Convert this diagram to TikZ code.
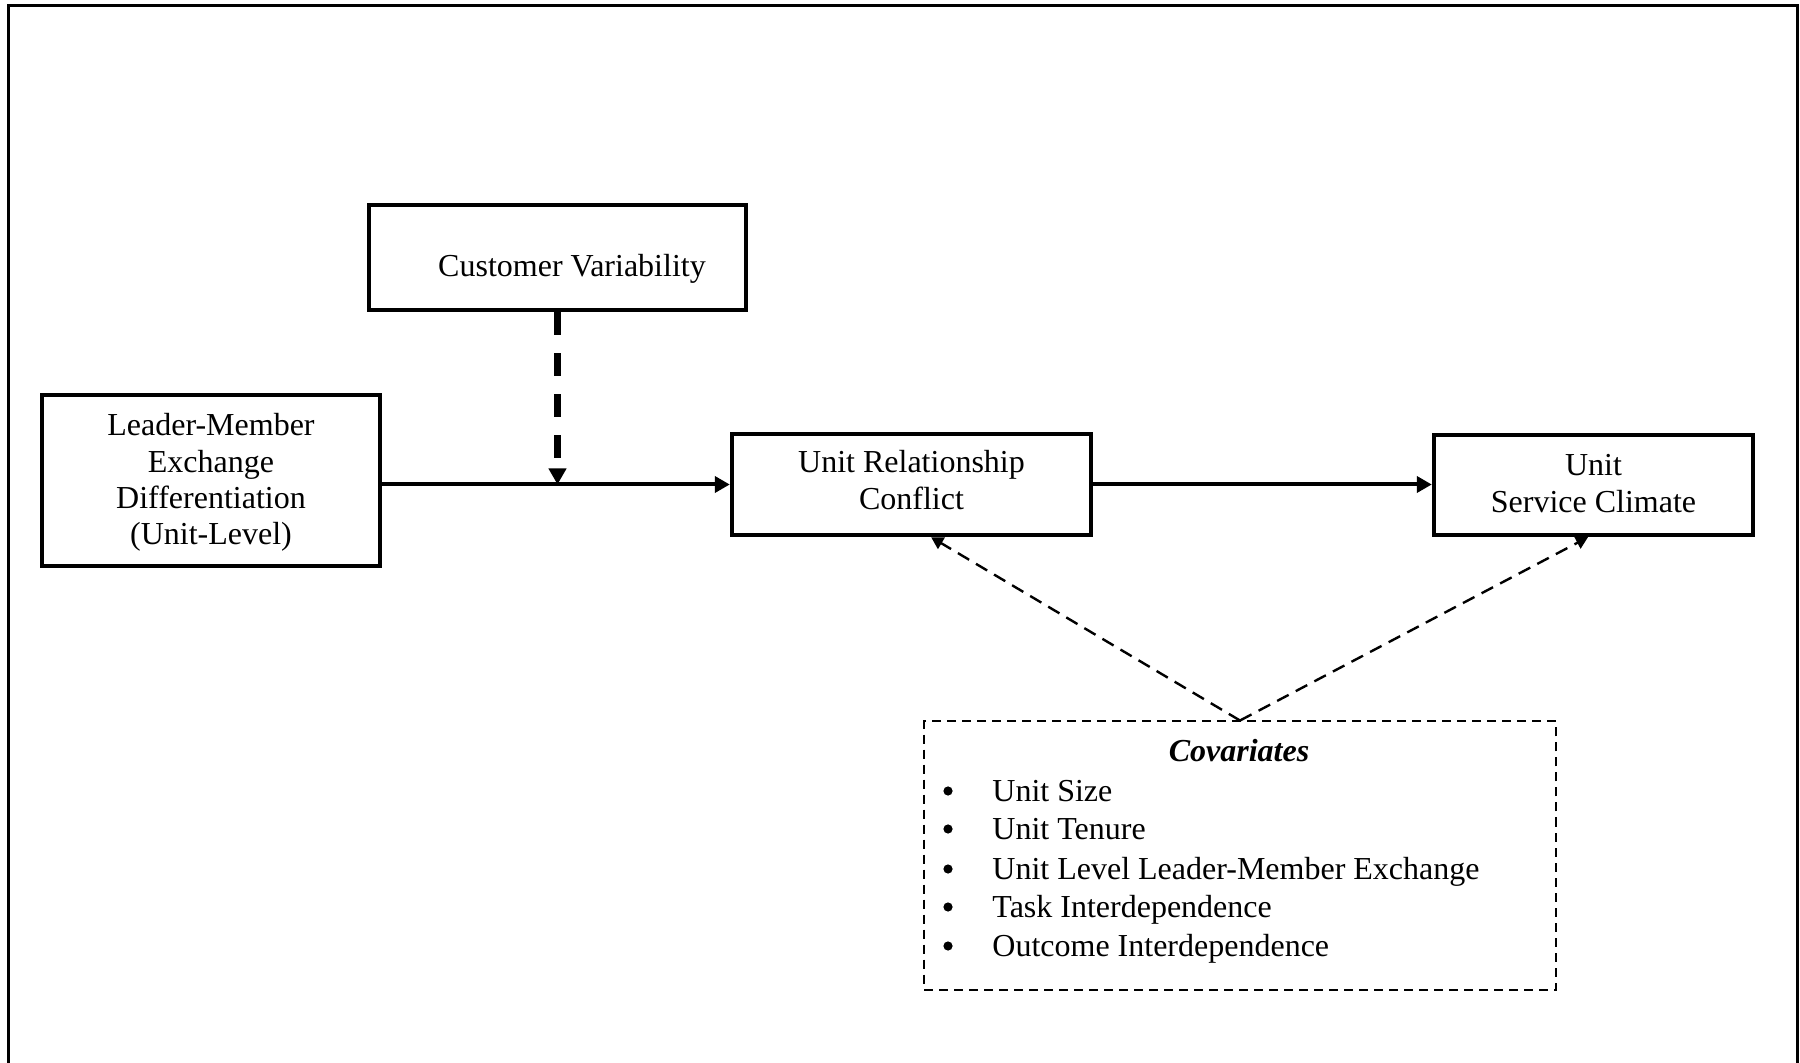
\documentclass[tikz,border=0pt]{standalone}
\usepackage{fontspec}
\setmainfont{Liberation Serif}
\usetikzlibrary{arrows.meta,calc}
\begin{document}
\begin{tikzpicture}[x=0.5pt,y=-0.5pt,
  box/.style={draw, line width=2.2pt, inner sep=0pt},
  txt/.style={inner sep=0pt, align=center, anchor=base, font=\fontsize{16}{18.5}\selectfont},
  item/.style={inner sep=0pt, anchor=base west, font=\fontsize{16}{19}\selectfont},
  bul/.style={circle, fill=black, inner sep=0pt, minimum size=4.6pt},
  mainarrow/.style={line width=2pt, -{Triangle[length=7.5pt,width=8pt]}},
  modarrow/.style={line width=3.2pt, dash pattern=on 11.5pt off 9pt, -{Triangle[length=8pt,width=8.5pt]}},
  covarrow/.style={line width=1.2pt, dash pattern=on 6.5pt off 4pt, -{Triangle[length=6pt,width=6.5pt]}},
  covbox/.style={draw, line width=1pt, dash pattern=on 4.5pt off 3pt, inner sep=0pt},
  frame/.style={line width=1.5pt}]
\useasboundingbox (0,0) rectangle (1800,1063);
\draw[frame] (8,1063) -- (8,6) -- (1797,6) -- (1797,1063);

% boxes
\node[box, minimum width=188.5pt, minimum height=52.5pt] (cv) at (557.5,257.5) {};
\node[txt] (cvt) at (572,277) {Customer Variability};

\node[box, minimum width=169pt, minimum height=85.5pt] (lmx) at (211,480.5) {};
\node[txt, font=\fontsize{16}{18.2}\selectfont] (lmxt) at (211,545)
  {Leader-Member\\Exchange\\Differentiation\\(Unit-Level)};

\node[box, minimum width=179.5pt, minimum height=50.5pt] (urc) at (911.5,484.5) {};
\node[txt] (urct) at (911.5,510) {Unit Relationship\\Conflict};

\node[box, minimum width=159.5pt, minimum height=50pt] (usc) at (1593.5,485) {};
\node[txt] (usct) at (1593.5,513) {Unit\\Service Climate};

\node[covbox, minimum width=316pt, minimum height=134pt] (cov) at (1240,855.5) {};

% covariates text
\node[txt, font=\fontsize{16}{19}\selectfont\bfseries\itshape] (covt) at (1239,762) {Covariates};
\node[bul] (b1) at (948,791) {};
\node[item] (i1) at (992,801) {Unit Size};
\node[bul] (b2) at (948,829) {};
\node[item] (i2) at (992,839) {Unit Tenure};
\node[bul] (b3) at (948,869) {};
\node[item] (i3) at (992,879) {Unit Level Leader-Member Exchange};
\node[bul] (b4) at (948,907) {};
\node[item] (i4) at (992,917) {Task Interdependence};
\node[bul] (b5) at (948,946) {};
\node[item] (i5) at (992,956) {Outcome Interdependence};

% connectors
\draw[mainarrow] (lmx.east |- urc.west) -- (urc.west);
\draw[mainarrow] (urc.east) -- (usc.west |- urc.east);
\draw[modarrow] (cv.south) -- (cv.south |- urc.west);
\coordinate (urcend) at ($(urc.south west)!0.554!(urc.south east)$);
\coordinate (uscend) at ($(usc.south west)!0.483!(usc.south east)$);
\draw[covarrow] (cov.north) -- (urcend);
\draw[covarrow] (cov.north) -- (uscend);
\end{tikzpicture}
\end{document}
